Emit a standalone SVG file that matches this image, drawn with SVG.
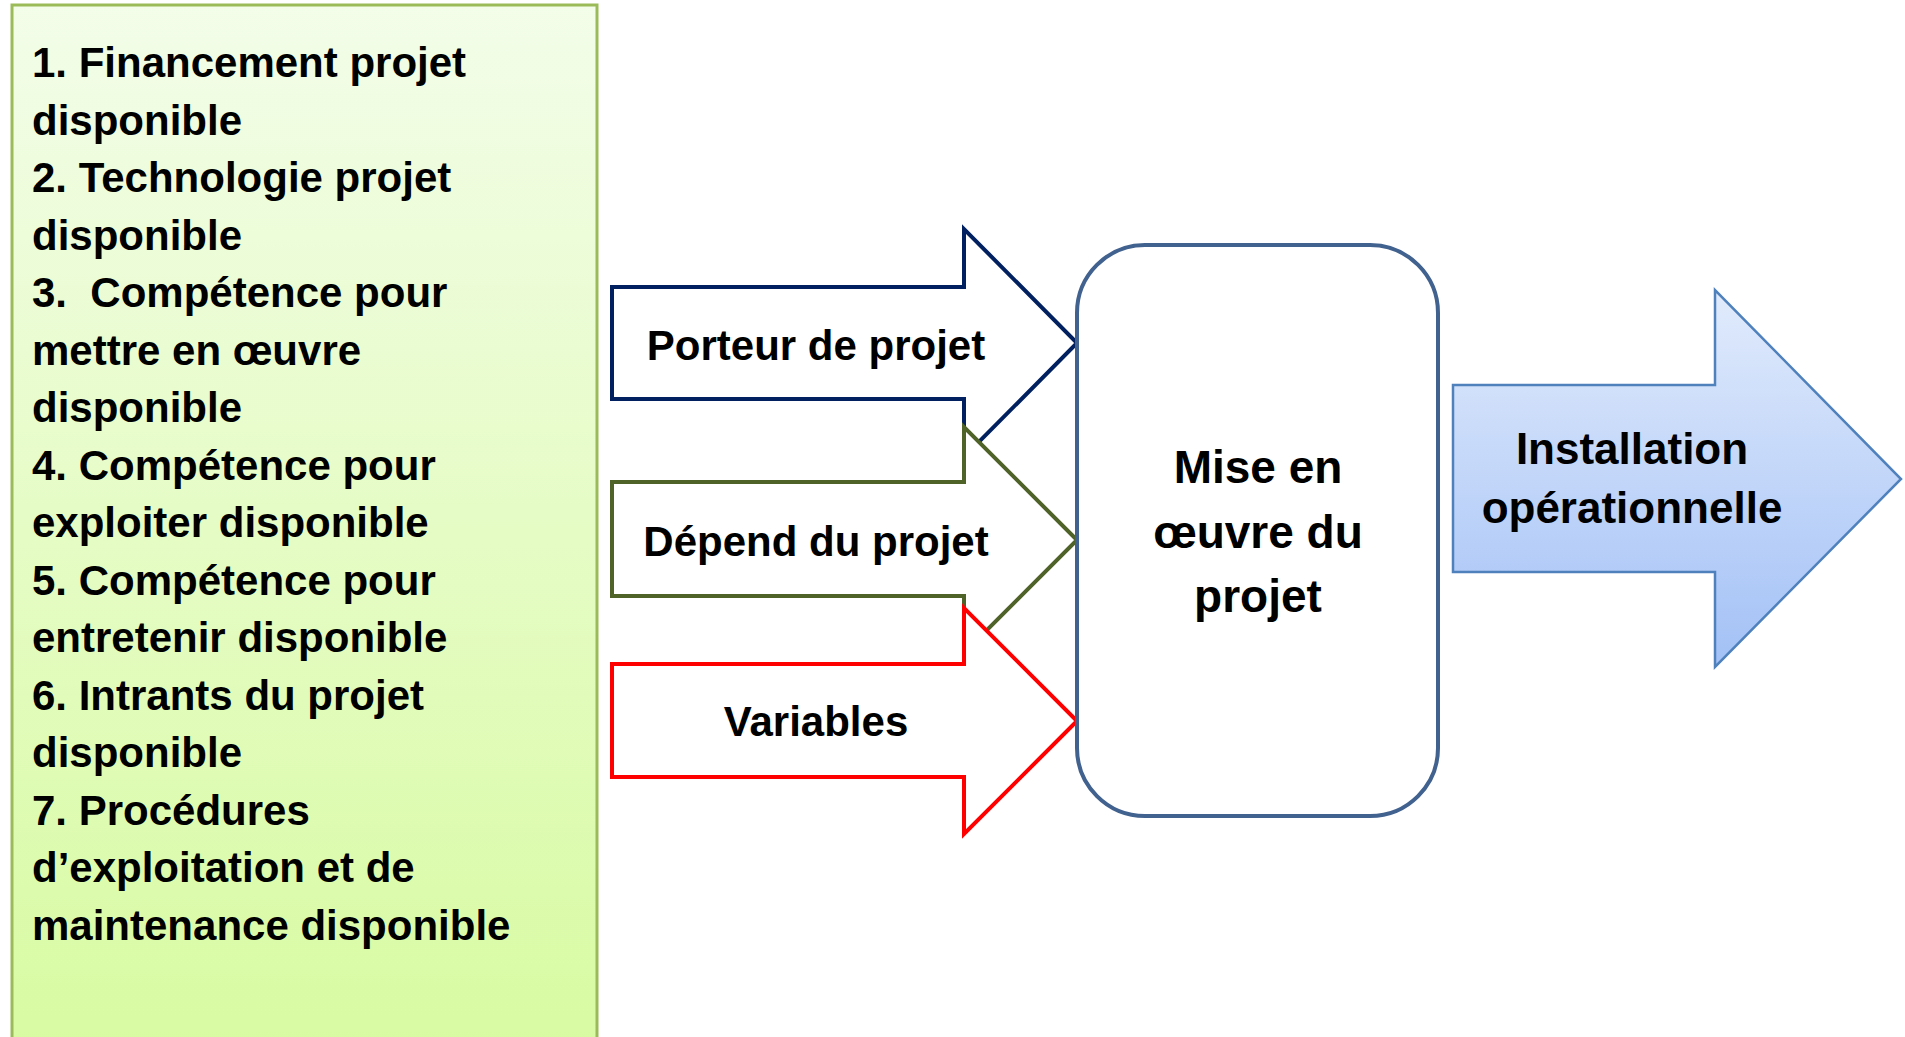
<svg xmlns="http://www.w3.org/2000/svg" width="1905" height="1037" viewBox="0 0 1905 1037">
<defs>
<linearGradient id="gGreen" x1="0" y1="0" x2="0" y2="1">
<stop offset="0" stop-color="#f3fde9"/>
<stop offset="1" stop-color="#d8fba2"/>
</linearGradient>
<linearGradient id="gBlue" x1="0" y1="0" x2="0" y2="1">
<stop offset="0" stop-color="#e1ebfc"/>
<stop offset="1" stop-color="#a3c1f6"/>
</linearGradient>
<style>
.t{font-family:"Liberation Sans",Arial,sans-serif;font-weight:bold;fill:#000;}
.list{font-size:42px;white-space:pre;}
.lbl{font-size:42px;text-anchor:middle;}
.mid{font-size:46px;text-anchor:middle;}
.out{font-size:44px;text-anchor:middle;}
.arr{fill:#fff;stroke-width:4;stroke-linejoin:miter;}
</style>
</defs>
<rect width="1905" height="1037" fill="#fff"/>

<g id="conditions">
<rect x="12" y="5" width="585" height="1040" fill="url(#gGreen)" stroke="#9bbb59" stroke-width="3"/>
<text class="t list" x="32" y="77">1. Financement projet</text>
<text class="t list" x="32" y="134.5">disponible</text>
<text class="t list" x="32" y="192">2. Technologie projet</text>
<text class="t list" x="32" y="249.5">disponible</text>
<text class="t list" x="32" y="307" xml:space="preserve">3.  Compétence pour</text>
<text class="t list" x="32" y="364.5">mettre en œuvre</text>
<text class="t list" x="32" y="422">disponible</text>
<text class="t list" x="32" y="479.5">4. Compétence pour</text>
<text class="t list" x="32" y="537">exploiter disponible</text>
<text class="t list" x="32" y="594.5">5. Compétence pour</text>
<text class="t list" x="32" y="652">entretenir disponible</text>
<text class="t list" x="32" y="709.5">6. Intrants du projet</text>
<text class="t list" x="32" y="767">disponible</text>
<text class="t list" x="32" y="824.5">7. Procédures</text>
<text class="t list" x="32" y="882">d’exploitation et de</text>
<text class="t list" x="32" y="939.5">maintenance disponible</text>
</g>

<g id="porteur">
<path class="arr" stroke="#002060" d="M612,287 H964 V229 L1077,343 L964,457 V399 H612 Z"/>
<text class="t lbl" x="816" y="360">Porteur de projet</text>
</g>

<g id="depend">
<path class="arr" stroke="#4f6228" d="M612,482 H964 V427 L1077,540 L964,653 V596 H612 Z"/>
<text class="t lbl" x="816" y="556">Dépend du projet</text>
</g>

<g id="variables">
<path class="arr" stroke="#ff0000" d="M612,664 H964 V608 L1077,721 L964,834 V777 H612 Z"/>
<text class="t lbl" x="816" y="736">Variables</text>
</g>

<g id="mise-en-oeuvre">
<rect x="1077" y="245" width="361" height="571" rx="68" ry="68" fill="#fff" stroke="#41618f" stroke-width="4"/>
<text class="t mid" x="1258" y="483">Mise en</text>
<text class="t mid" x="1258" y="548">œuvre du</text>
<text class="t mid" x="1258" y="612">projet</text>
</g>

<g id="installation">
<path d="M1453,385 H1715 V290 L1901,479 L1715,667 V572 H1453 Z" fill="url(#gBlue)" stroke="#4f81bd" stroke-width="2.5"/>
<text class="t out" x="1632" y="464">Installation</text>
<text class="t out" x="1632" y="523">opérationnelle</text>
</g>
</svg>
